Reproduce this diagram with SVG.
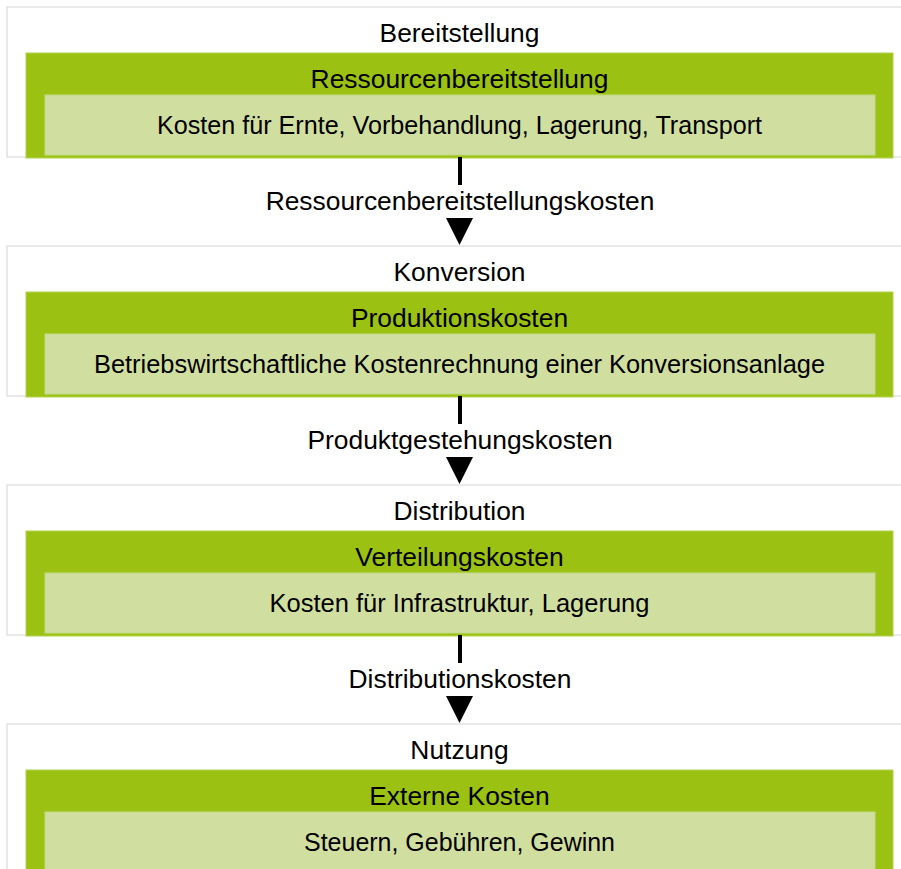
<svg xmlns="http://www.w3.org/2000/svg" width="901" height="869" viewBox="0 0 901 869">
<style>
.frame{fill:#ffffff;stroke:#e2e2e2;stroke-width:1.5}
.band{fill:#9bc112;stroke:#b3d24f;stroke-width:1}
.inner{fill:#d0df9f;stroke:#c3d98a;stroke-width:1}
text{font-family:"Liberation Sans",Arial,sans-serif;font-size:26.4px;fill:#000;text-anchor:middle}
text.body{font-size:25.2px}
.conn line{stroke:#000;stroke-width:4}
.conn polygon{fill:#000}
</style>
<rect width="901" height="869" fill="#ffffff"/>
<g id="bereitstellung">
<rect class="frame" x="7" y="7" width="910" height="150"/>
<rect class="band" x="26" y="53" width="867" height="105"/>
<rect class="inner" x="45" y="95" width="830" height="60"/>
<text x="459.5" y="41.5">Bereitstellung</text>
<text x="459.5" y="87.5">Ressourcenbereitstellung</text>
<text class="body" x="459.5" y="133.5" textLength="605" lengthAdjust="spacingAndGlyphs">Kosten für Ernte, Vorbehandlung, Lagerung, Transport</text>
</g>
<g id="konversion">
<rect class="frame" x="7" y="246" width="910" height="150"/>
<rect class="band" x="26" y="292" width="867" height="105"/>
<rect class="inner" x="45" y="334" width="830" height="60"/>
<text x="459.5" y="280.5">Konversion</text>
<text x="459.5" y="326.5">Produktionskosten</text>
<text class="body" x="459.5" y="372.5" textLength="731" lengthAdjust="spacingAndGlyphs">Betriebswirtschaftliche Kostenrechnung einer Konversionsanlage</text>
</g>
<g id="distribution">
<rect class="frame" x="7" y="485" width="910" height="150"/>
<rect class="band" x="26" y="531" width="867" height="105"/>
<rect class="inner" x="45" y="573" width="830" height="60"/>
<text x="459.5" y="519.5">Distribution</text>
<text x="459.5" y="565.5">Verteilungskosten</text>
<text class="body" x="459.5" y="611.5" textLength="380" lengthAdjust="spacingAndGlyphs">Kosten für Infrastruktur, Lagerung</text>
</g>
<g id="nutzung">
<rect class="frame" x="7" y="724" width="910" height="150"/>
<rect class="band" x="26" y="770" width="867" height="105"/>
<rect class="inner" x="45" y="812" width="830" height="60"/>
<text x="459.5" y="758.5">Nutzung</text>
<text x="459.5" y="804.5">Externe Kosten</text>
<text class="body" x="459.5" y="850.5" textLength="311" lengthAdjust="spacingAndGlyphs">Steuern, Gebühren, Gewinn</text>
</g>
<g id="connectors" class="conn">
<line x1="460" y1="157" x2="460" y2="185"/>
<polygon points="446,218 473,218 459.5,245"/>
<text x="460" y="209.5">Ressourcenbereitstellungskosten</text>
<line x1="460" y1="396" x2="460" y2="424"/>
<polygon points="446,457 473,457 459.5,484"/>
<text x="460" y="448.5">Produktgestehungskosten</text>
<line x1="460" y1="635" x2="460" y2="663"/>
<polygon points="446,696 473,696 459.5,723"/>
<text x="460" y="687.5">Distributionskosten</text>
</g>
</svg>
